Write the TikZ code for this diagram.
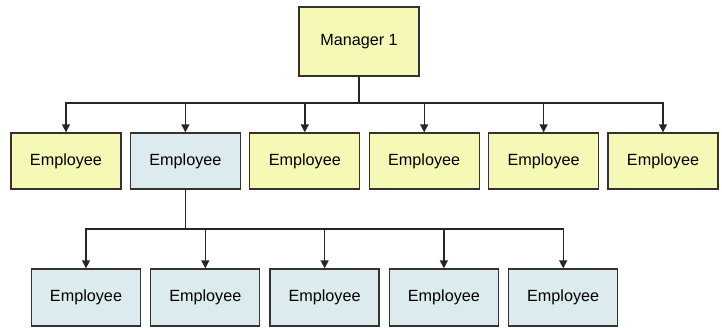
\documentclass[tikz,border=0pt]{standalone}
\usepackage{fontspec}
\setmainfont{Liberation Sans}
\usepackage{tikz}
\usetikzlibrary{arrows.meta}
\definecolor{bossyellow}{RGB}{245,249,181}
\definecolor{staffblue}{RGB}{220,235,238}

\begin{document}
\begin{tikzpicture}[x=1pt,y=-1pt,
  box/.style={draw=black!80,line width=1.3pt,minimum width=110pt,minimum height=56pt,
    inner sep=0pt,font=\fontsize{16.2}{19}\selectfont},
  link/.style={draw=black!85,line width=1.4pt,-{Triangle[length=8pt,width=8pt]}}]
  \useasboundingbox (0,0) rectangle (722,331);

  % top of the chart
  \node[box,fill=bossyellow,minimum width=120pt,minimum height=69pt] (boss) at (359,41.5) {Manager 1};
  \coordinate (bar1) at (0,103);
  \coordinate (bar2) at (0,229);

  % first row
  \foreach \i/\c in {1/bossyellow,2/staffblue,3/bossyellow,4/bossyellow,5/bossyellow,6/bossyellow}{
    \node[box,fill=\c] (emp\i) at ({66+119.4*(\i-1)},161) {Employee};
    \draw[link] (boss.south) -- (boss.south |- bar1) -| (emp\i.north);
  }

  % second row, under the blue one
  \foreach \i in {1,...,5}{
    \node[box,fill=staffblue,minimum width=109pt,minimum height=57pt] (sub\i) at ({86+119.3*(\i-1)},297.5) {Employee};
    \draw[link] (emp2.south) -- (emp2.south |- bar2) -| (sub\i.north);
  }
\end{tikzpicture}
\end{document}
